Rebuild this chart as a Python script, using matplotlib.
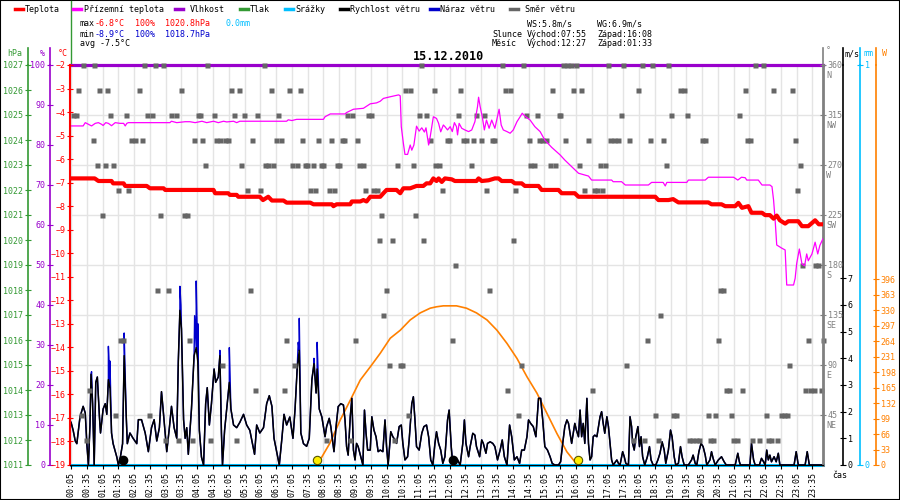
import matplotlib
matplotlib.use('Agg')
import matplotlib.pyplot as plt
import matplotlib.transforms as mtrans
from matplotlib.lines import Line2D
from matplotlib.patches import Rectangle
import numpy as np

plt.rcParams['font.family'] = ['DejaVu Sans Mono', 'DejaVu Sans']
plt.rcParams['font.size'] = 6

# ---- data (time in minutes after midnight) ----
temp_t = [5, 50, 57, 82, 85, 105, 108, 149, 155, 181, 184, 276, 279, 304, 307, 320, 323, 364,
          370, 380, 387, 409, 415, 460, 466, 501, 504, 510, 536, 539, 555, 561, 567, 574, 593,
          599, 605, 624, 631, 637, 650, 662, 675, 681, 688, 694, 700, 704, 710, 716, 729, 735,
          776, 780, 786, 799, 811, 818, 824, 843, 849, 862, 868, 894, 900, 932, 938, 963, 970,
          1116, 1122, 1141, 1150, 1160, 1217, 1223, 1242, 1249, 1268, 1274, 1281, 1293, 1299,
          1319, 1325, 1334, 1341, 1347, 1353, 1363, 1369, 1388, 1395, 1407, 1420, 1427, 1435]
temp_c = [-6.82, -6.82, -6.93, -6.93, -7.03, -7.03, -7.14, -7.14, -7.24, -7.24, -7.31, -7.31,
          -7.45, -7.45, -7.52, -7.52, -7.6, -7.6, -7.74, -7.6, -7.76, -7.76, -7.85, -7.85, -7.92,
          -7.92, -8.0, -7.92, -7.92, -7.8, -7.8, -7.74, -7.8, -7.6, -7.6, -7.45, -7.31, -7.31,
          -7.45, -7.24, -7.24, -7.14, -7.14, -7.03, -7.03, -6.82, -6.93, -6.82, -6.97, -6.82,
          -6.86, -6.93, -6.93, -6.82, -6.93, -6.9, -6.82, -6.82, -6.93, -6.93, -7.03, -7.03,
          -7.14, -7.14, -7.31, -7.31, -7.45, -7.45, -7.6, -7.6, -7.74, -7.74, -7.7, -7.84, -7.84,
          -7.92, -7.92, -8.0, -8.0, -7.86, -8.07, -8.0, -8.28, -8.28, -8.38, -8.38, -8.53, -8.4,
          -8.6, -8.74, -8.64, -8.64, -8.85, -8.85, -8.6, -8.77, -8.77]

ground_t = [5, 28, 32, 38, 44, 51, 57, 63, 66, 71, 76, 82, 89, 98, 105, 108, 111, 114, 193, 196,
            206, 222, 231, 241, 254, 263, 276, 285, 295, 301, 314, 320, 326, 415, 418, 425, 434,
            485, 488, 498, 526, 529, 542, 561, 574, 586, 593, 599, 612, 628, 631, 633, 637, 640,
            645, 650, 653, 657, 662, 667, 672, 677, 680, 685, 688, 694, 700, 704, 708, 713, 716,
            721, 726, 730, 734, 738, 740, 743, 748, 754, 761, 767, 773, 778, 780, 783, 787, 791,
            795, 800, 805, 811, 816, 819, 823, 827, 834, 840, 846, 853, 859, 863, 868, 878, 887,
            897, 906, 919, 935, 944, 957, 970, 989, 995, 1033, 1036, 1052, 1059, 1103, 1109, 1131,
            1135, 1138, 1176, 1179, 1211, 1217, 1265, 1273, 1280, 1287, 1290, 1312, 1319, 1334,
            1338, 1341, 1344, 1347, 1357, 1363, 1366, 1379, 1382, 1385, 1390, 1395, 1400, 1404,
            1407, 1414, 1420, 1425, 1429, 1435]
ground_c = [-4.59, -4.59, -4.45, -4.52, -4.59, -4.48, -4.45, -4.52, -4.57, -4.45, -4.48, -4.58,
            -4.45, -4.48, -4.48, -4.59, -4.48, -4.45, -4.45, -4.39, -4.45, -4.41, -4.41, -4.45,
            -4.39, -4.45, -4.39, -4.45, -4.39, -4.42, -4.39, -4.45, -4.39, -4.39, -4.33, -4.36,
            -4.31, -4.31, -4.2, -4.08, -4.08, -4.02, -3.88, -3.84, -3.65, -3.61, -3.54, -3.42,
            -3.35, -3.27, -3.31, -4.62, -5.33, -5.8, -5.8, -5.4, -5.62, -5.4, -4.6, -4.81, -4.67,
            -4.85, -4.67, -5.4, -5.05, -4.2, -4.27, -4.48, -4.84, -4.55, -4.62, -4.76, -4.62,
            -4.83, -4.45, -4.62, -4.97, -4.48, -4.69, -4.76, -4.83, -4.76, -4.41, -3.77, -3.37,
            -3.77, -4.2, -4.76, -4.34, -4.69, -4.34, -4.69, -4.17, -3.88, -4.55, -4.76, -4.83,
            -4.9, -4.76, -4.41, -4.2, -4.05, -4.17, -4.34, -4.62, -4.83, -5.19, -5.5, -5.82, -6.04,
            -6.32, -6.6, -6.72, -6.89, -6.89, -6.96, -6.96, -7.1, -7.1, -6.99, -6.99, -7.14, -6.99,
            -6.99, -6.89, -6.89, -6.77, -6.77, -6.89, -6.77, -6.79, -6.89, -6.89, -7.1, -7.1,
            -7.17, -7.74, -8.6, -9.65, -9.79, -9.86, -11.35, -11.35, -11.07, -10.43, -9.82,
            -10.46, -10.53, -10.03, -10.32, -10.03, -9.53, -10.03, -9.67, -9.38]

hum_t = [5, 1435]
hum_pct = [100, 100]

precip_t = [5, 1435]
precip_mm = [0.0, 0.0]

wind_t = [5, 9, 13, 16, 19, 22, 28, 32, 35, 38, 41, 43, 46, 49, 52, 55, 59, 61, 66, 70, 73, 76,
          79, 82, 85, 92, 95, 98, 103, 106, 110, 112, 117, 123, 130, 133, 139, 146, 152, 158,
          163, 168, 173, 177, 180, 187, 192, 196, 201, 206, 209, 212, 215, 219, 222, 225, 228,
          234, 239, 243, 246, 249, 253, 257, 261, 264, 268, 272, 277, 280, 285, 288, 291, 293,
          297, 301, 306, 309, 314, 320, 326, 333, 339, 345, 350, 354, 358, 364, 371, 377, 382,
          387, 391, 396, 401, 406, 410, 415, 421, 427, 431, 435, 439, 442, 447, 453, 458, 463,
          467, 471, 473, 477, 482,
          488, 491, 496, 499, 503, 505, 509, 513, 518, 523, 526, 529, 532, 536, 539, 542, 545,
          548, 551, 556, 560, 563, 566, 569, 574, 577, 581, 585, 589, 593, 598, 602, 605, 608,
          613, 617, 621, 624, 629, 633, 636, 640, 645, 648, 653, 656, 659, 662, 667, 672, 676,
          681, 685, 689, 693, 697, 700, 704, 708, 712, 716, 721, 724, 728, 731, 735, 740, 745,
          750, 753, 756, 761, 764, 769, 773, 776, 782, 786, 789, 794, 797, 802, 807, 811, 816,
          821, 825, 829, 834, 839, 843, 848, 853, 858, 862, 867, 872, 875, 879, 884, 889, 894,
          898, 902, 906, 911, 916, 920, 925, 932, 936, 940, 944, 948, 951,
          957, 960, 963, 966, 970, 973, 976, 979, 982, 986, 989, 992, 995, 998, 1001, 1005,
          1008, 1011, 1014, 1017, 1020, 1024, 1027, 1030, 1033, 1036, 1043, 1046, 1049, 1054,
          1057, 1060, 1065, 1068, 1071, 1073, 1076, 1079, 1083, 1086, 1089, 1092, 1096, 1101,
          1105, 1108, 1112, 1117, 1121, 1125, 1129, 1133, 1136, 1141, 1145, 1148, 1152, 1155,
          1160, 1164, 1167, 1171, 1179, 1185, 1188, 1192, 1195, 1199, 1203, 1207, 1211, 1214,
          1220, 1223, 1226, 1230, 1236, 1242, 1247, 1251, 1268, 1273, 1276, 1278, 1296, 1299,
          1303, 1306, 1314, 1318, 1322, 1325, 1328, 1331, 1334, 1337, 1342, 1346, 1350, 1353,
          1380, 1384, 1388, 1401, 1405, 1409, 1435]
wind_ms = [1.6, 1.3, 0.9, 0.8, 1.3, 1.8, 2.2, 1.95, 0.8, 0.0, 1.5, 3.4, 2.3, 0.0, 3.1, 3.3, 1.8,
           1.2, 2.1, 2.3, 1.9, 3.2, 2.9, 1.2, 0.8, 0.3, 0.0, 0.2, 0.8, 4.1, 1.8, 0.8, 1.2, 1.0,
           0.8, 1.7, 1.7, 1.2, 0.5, 1.4, 1.7, 0.9, 1.4, 2.75, 2.1, 0.5, 1.4, 2.2, 1.4, 1.0, 3.9,
           5.8, 5.1, 1.7, 1.0, 1.4, 0.4, 2.1, 4.1, 4.4, 3.9, 1.3, 0.3, 0.0, 2.3, 2.9, 1.5, 2.3,
           3.6, 3.1, 3.3, 4.1, 1.2, 0.0, 1.3, 2.1, 3.1, 2.1, 1.5, 1.4, 1.6, 1.9, 1.5, 1.3, 0.8,
           0.4, 1.5, 1.2, 1.4, 2.3, 2.6, 2.2, 1.0, 0.5, 0.0, 1.0, 1.9, 1.5, 1.8, 1.0, 2.1, 3.6,
           4.3, 1.2, 0.8, 0.7, 1.0, 3.2, 3.8, 2.7, 3.6, 2.1, 1.8,
           1.06, 1.44, 1.75, 1.44, 0.81, 0.5, 1.44, 2.19, 2.3, 2.25, 1.69, 0.69, 0.37, 1.81, 2.5,
           0.56, 0.19, 0.81, 0.69, 0.31, 0.0, 2.06, 1.19, 0.56, 0.56, 1.81, 1.31, 1.06, 0.5,
           0.56, 0.5, 1.69, 0.69, 0.0, 1.25, 1.06, 0.94, 0.81, 1.44, 1.5, 0.81, 0.19, 0.31, 0.94,
           2.3, 2.56, 1.69, 0.69, 0.56, 1.19, 1.44, 1.5, 1.06, 0.19, 0.0, 0.81, 1.25, 0.81, 0.56,
           0.06, 0.31, 1.69, 2.06, 0.69, 0.0, 0.12, 0.19, 0.0, 0.81, 1.69, 0.81, 0.31, 0.69,
           1.19, 1.12, 0.69, 0.31, 0.94, 0.81, 0.44, 0.81, 0.87, 0.81, 0.69, 0.19, 0.56, 0.94,
           0.31, 0.0, 1.5, 1.06, 0.19, 0.31, 0.06, 0.56, 0.56, 1.06, 1.69, 1.56, 1.44, 1.06, 2.5,
           2.5, 1.69, 0.69, 0.56, 0.31, 0.06, 0.0, 0.0, 0.12, 0.81, 1.44, 1.69, 1.56,
           0.81, 1.19, 1.56, 1.31, 1.06, 2.06, 1.06, 1.56, 0.81, 2.5, 0.81, 0.19, 0.31, 1.06,
           1.12, 1.06, 1.44, 1.81, 2.0, 1.56, 1.19, 1.81, 1.44, 0.81, 0.19, 0.0, 0.19, 0.06, 0.0,
           0.5, 0.31, 0.06, 0.0, 1.81, 1.44, 0.81, 0.56, 1.06, 1.44, 0.69, 1.06, 0.31, 0.0, 0.31,
           0.69, 0.19, 0.0, 0.0, 0.19, 0.44, 0.87, 0.56, 0.06, 0.56, 1.31, 1.06, 0.31, 0.0, 0.06,
           0.69, 0.31, 0.0, 0.0, 0.19, 0.37, 0.06, 0.0, 0.5, 0.81, 0.69, 0.37, 0.0, 0.19, 0.5,
           0.25, 0.0, 0.19, 0.31, 0.12, 0.0, 0.0, 0.44, 0.12, 0.0, 0.0, 0.81, 0.19, 0.0, 0.0,
           0.25, 0.12, 0.0, 0.56, 0.19, 0.37, 0.12, 0.31, 0.12, 0.44, 0.0, 0.0, 0.5, 0.0, 0.0,
           0.5, 0.0, 0.0]

gust_t = [44, 76, 79, 106, 212, 214, 240, 243, 246, 288, 306, 437, 439, 467, 473]
gust_ms = [3.5, 4.45, 3.9, 4.95, 6.7, 6.0, 5.6, 6.9, 5.3, 4.3, 4.4, 4.6, 5.5, 4.0, 4.6]

wind_dir_times = {
    360: [28, 49, 144, 165, 179, 263, 371, 671, 824, 864, 940, 948, 956, 965, 1026, 1054, 1090,
          1109, 1140, 1306, 1320],
    337.5: [19, 58, 73, 134, 214, 309, 325, 385, 420, 440, 640, 650, 695, 745, 830, 840, 919,
            960, 975, 1083, 1163, 1170, 1287, 1339, 1376],
    315: [8, 14, 79, 110, 149, 159, 196, 205, 246, 250, 276, 314, 333, 359, 399, 530, 539, 569,
          576, 666, 680, 740, 776, 790, 870, 892, 932, 935, 1050, 1146, 1176, 1275],
    292.5: [46, 119, 127, 139, 239, 254, 280, 288, 297, 304, 349, 394, 404, 444, 475, 499, 520,
            524, 548, 688, 719, 724, 751, 757, 769, 784, 805, 810, 876, 895, 901, 908, 944, 988,
            1030, 1038, 1045, 1067, 1106, 1131, 1204, 1211, 1290, 1296, 1381],
    270: [55, 70, 84, 260, 329, 374, 379, 390, 426, 435, 450, 454, 466, 480, 485, 510, 515, 553,
          561, 625, 656, 698, 705, 766, 878, 886, 916, 925, 971, 1011, 1021, 1137, 1391],
    247.5: [94, 114, 340, 364, 460, 469, 496, 506, 564, 579, 586, 710, 794, 849, 981, 1000, 1006,
            1014, 1386],
    225: [64, 174, 220, 225, 595, 659],
    202.5: [591, 616, 674, 845],
    180: [735, 1395, 1420, 1425],
    157.5: [168, 189, 345, 603, 800, 1240, 1245],
    135: [599, 1125],
    112.5: [99, 103, 229, 414, 545, 730, 1100, 1235, 1407, 1435],
    90: [293, 429, 610, 631, 635, 861, 1060, 1370],
    67.5: [39, 355, 410, 835, 996, 1250, 1256, 1281, 1401, 1410, 1417, 1431],
    45: [23, 89, 153, 646, 855, 1115, 1149, 1155, 1217, 1230, 1260, 1327, 1355, 1361, 1367],
    22.5: [33, 184, 208, 235, 269, 319, 490, 536, 619, 1074, 1095, 1121, 1180, 1186, 1193, 1199,
           1220, 1226, 1264, 1271, 1300, 1314, 1330, 1336, 1347],
}

sun_t = [473, 497, 517, 536, 555, 574, 593, 612, 631, 650, 669, 688, 700, 713, 738, 757, 776,
         796, 815, 834, 853, 872, 891, 910, 929, 948, 968]
sun_w = [0, 46, 96, 138, 181, 209, 238, 270, 287, 309, 324, 334, 337, 339, 339, 334, 324, 309,
         287, 259, 227, 188, 153, 110, 67, 28, 0]

sun_marks_t = [473, 970]
moon_marks_t = [104, 732]

tick_t = list(range(5, 1436, 30))
tick_lbl = ['%02d:%02d' % (t // 60, t % 60) for t in tick_t]
compass = {45: 'NE', 90: 'E', 135: 'SE', 180: 'S', 225: 'SW', 270: 'W', 315: 'NW', 360: 'N'}

RED = '#ff0000'
MAG = '#ff00ff'
PUR = '#9900cc'
GRN = '#339933'
CYA = '#00bfff'
BLU = '#0000cc'
GRY = '#666666'
ORA = '#ff8000'

# ---- layout (pixels of a 900x500 canvas) ----
W, H = 900, 500


def fx(px):
    return px / W


def fy(py):
    return 1 - py / H


L, R, TOP, BOT = 70, 823, 65, 465
rect = [fx(L), fy(BOT), (R - L) / W, (BOT - TOP) / H]
T0, T1 = 3, 1435

fig = plt.figure(figsize=(9, 5), dpi=100)
fig.patch.set_facecolor('white')

ax_bg = fig.add_axes(rect, zorder=0)
ax_bg.set_xlim(T0, T1)
ax_bg.set_ylim(0, 360)
ax_bg.set_xticks(tick_t)
ax_bg.set_yticks(range(0, 361, 45))
ax_bg.grid(True, color='#e4e4e4', lw=1)
ax_bg.tick_params(left=False, bottom=False, labelleft=False, labelbottom=False)
for s in ax_bg.spines.values():
    s.set_visible(False)

ax = fig.add_axes(rect, zorder=6)
ax.patch.set_visible(False)
ax.set_xlim(T0, T1)
ax.set_ylim(-19, -2)
ax.set_yticks(range(-19, -1))
ax.tick_params(axis='y', colors=RED, direction='inout', length=5, pad=1)
ax.spines['left'].set_color(RED)
ax.spines['left'].set_linewidth(1.5)
ax.spines['top'].set_visible(False)
ax.spines['right'].set_visible(False)
ax.spines['bottom'].set_color('black')
ax.set_xticks(tick_t)
ax.set_xticklabels(tick_lbl, rotation=90)
ax.tick_params(axis='x', length=3, pad=2, colors='black')


def side_axis(pos, side, color, lim, ticks, labels, z, lw=1.2):
    a = ax.twinx()
    a.set_zorder(z)
    a.patch.set_visible(False)
    a.set_ylim(*lim)
    for s in a.spines.values():
        s.set_visible(False)
    sp = a.spines[side]
    sp.set_visible(True)
    sp.set_position(('axes', pos))
    sp.set_color(color)
    sp.set_linewidth(lw)
    if side == 'left':
        a.yaxis.tick_left()
    else:
        a.yaxis.tick_right()
    a.set_yticks(ticks)
    a.set_yticklabels(labels)
    a.tick_params(axis='y', colors=color, direction='inout', length=5, pad=1)
    return a


def apos(px):
    return (px - L) / (R - L)


ax_p = side_axis(apos(28), 'left', GRN, (1011, 1027), range(1011, 1028),
                 [str(v) for v in range(1011, 1028)], 1)
ax_h = side_axis(apos(50), 'left', PUR, (0, 100), range(0, 101, 10),
                 [str(v) for v in range(0, 101, 10)], 4)
ax_s = side_axis(apos(876), 'right', ORA, (0, 852), range(0, 397, 33),
                 [str(v) for v in range(0, 397, 33)], 1.2)
ax_r = side_axis(apos(860), 'right', CYA, (0, 1), [0, 1], ['0', '1'], 2)
ax_w = side_axis(apos(843), 'right', 'black', (0, 15), range(0, 8),
                 [str(v) for v in range(0, 8)], 3)
ax_d = side_axis(1.0, 'right', '#808080', (0, 360), range(45, 361, 45),
                 [str(v) for v in range(45, 361, 45)], 5, lw=2)

# compass letters under the direction ticks
dtrans = mtrans.blended_transform_factory(ax_d.transAxes, ax_d.transData)
dtrans = mtrans.offset_copy(dtrans, fig=fig, x=3, y=-10, units='dots')
for deg, name in compass.items():
    ax_d.text(1.0, deg, name, transform=dtrans, ha='left', va='center', color='#808080',
              fontsize=6)

# ---- series ----
ax_s.plot(sun_t, sun_w, color=ORA, lw=1.2)

ax_r.plot(precip_t, precip_mm, color=CYA, lw=2.2, clip_on=False)

g_t = np.concatenate([wind_t, gust_t])
g_v = np.concatenate([wind_ms, gust_ms])
order = np.argsort(g_t, kind='stable')
ax_w.plot(g_t[order], g_v[order], color=BLU, lw=1.0)
ax_w.plot(wind_t, wind_ms, color='black', lw=1.1)
ax_w.plot(sun_marks_t, [0.2] * len(sun_marks_t), 'o', ms=6, mfc='#ffee00', mec='#555500',
          mew=0.8, clip_on=False, zorder=5)
ax_w.plot(moon_marks_t, [0.2] * len(moon_marks_t), 'o', ms=6, color='black', clip_on=False,
          zorder=5)

for deg, times in wind_dir_times.items():
    ax_d.plot(times, [deg] * len(times), 's', ms=3.6, color=GRY, mec='none', clip_on=False)

ax_h.plot(hum_t, hum_pct, color=PUR, lw=2.3, clip_on=False)

ax.plot(ground_t, ground_c, color=MAG, lw=0.9)
ax.plot(temp_t, temp_c, color=RED, lw=3)

# ---- header decorations ----
for x, c in [(28, GRN), (50, PUR), (823, '#808080'), (843, 'black'), (860, CYA), (876, ORA)]:
    fig.add_artist(Line2D([fx(x), fx(x)], [fy(48), fy(TOP)], transform=fig.transFigure,
                          color=c, lw=1.2))
fig.add_artist(Line2D([fx(71), fx(71)], [fy(1), fy(TOP)], transform=fig.transFigure,
                      color=GRN, lw=1))

legend = [(15, 25, RED, 'Teplota'), (73, 84, MAG, 'Přízemní teplota'),
          (175, 190, PUR, 'Vlhkost'), (240, 250, GRN, 'Tlak'), (285, 295, CYA, 'Srážky'),
          (340, 350, 'black', 'Rychlost větru'), (430, 440, BLU, 'Náraz větru'),
          (510, 525, GRY, 'Směr větru')]
for x0, xt, c, name in legend:
    fig.add_artist(Line2D([fx(x0), fx(x0 + 8)], [fy(9), fy(9)], transform=fig.transFigure,
                          color=c, lw=2.5))
    fig.text(fx(xt), fy(9), name, ha='left', va='center', color='black')

stats = [(80, 24, 'max', 'black'), (95, 24, '-6.8°C', RED), (135, 24, '100%', RED),
         (165, 24, '1020.8hPa', RED), (226, 24, '0.0mm', CYA),
         (80, 34, 'min', 'black'), (95, 34, '-8.9°C', BLU), (135, 34, '100%', BLU),
         (165, 34, '1018.7hPa', BLU),
         (80, 43, 'avg -7.5°C', 'black'),
         (527, 24, 'WS:5.8m/s', 'black'), (597, 24, 'WG:6.9m/s', 'black'),
         (492, 34, 'Slunce', 'black'), (527, 34, 'Východ:07:55', 'black'),
         (597, 34, 'Západ:16:08', 'black'),
         (492, 43, 'Měsíc', 'black'), (527, 43, 'Východ:12:27', 'black'),
         (597, 43, 'Západ:01:33', 'black')]
for x, y, s, c in stats:
    fig.text(fx(x), fy(y), s, ha='left', va='center', color=c)

fig.text(fx(449), fy(57), '15.12.2010', ha='center', va='center', fontsize=8.5,
         fontweight='bold', color='black')

units = [(15, 53, 'hPa', GRN), (42, 53, '%', PUR), (63, 53, '°C', RED),
         (828, 51, '°', '#808080'), (852, 54, 'm/s', 'black'), (869, 54, 'mm', CYA),
         (885, 54, 'W', ORA)]
for x, y, s, c in units:
    fig.text(fx(x), fy(y), s, ha='center', va='center', color=c)
fig.text(fx(840), fy(475), 'čas', ha='center', va='center', color='black')

fig.add_artist(Rectangle((0, 0), 1, 1, transform=fig.transFigure, fill=False,
                         ec='black', lw=1.5))

fig.savefig('out.png', dpi=100)
